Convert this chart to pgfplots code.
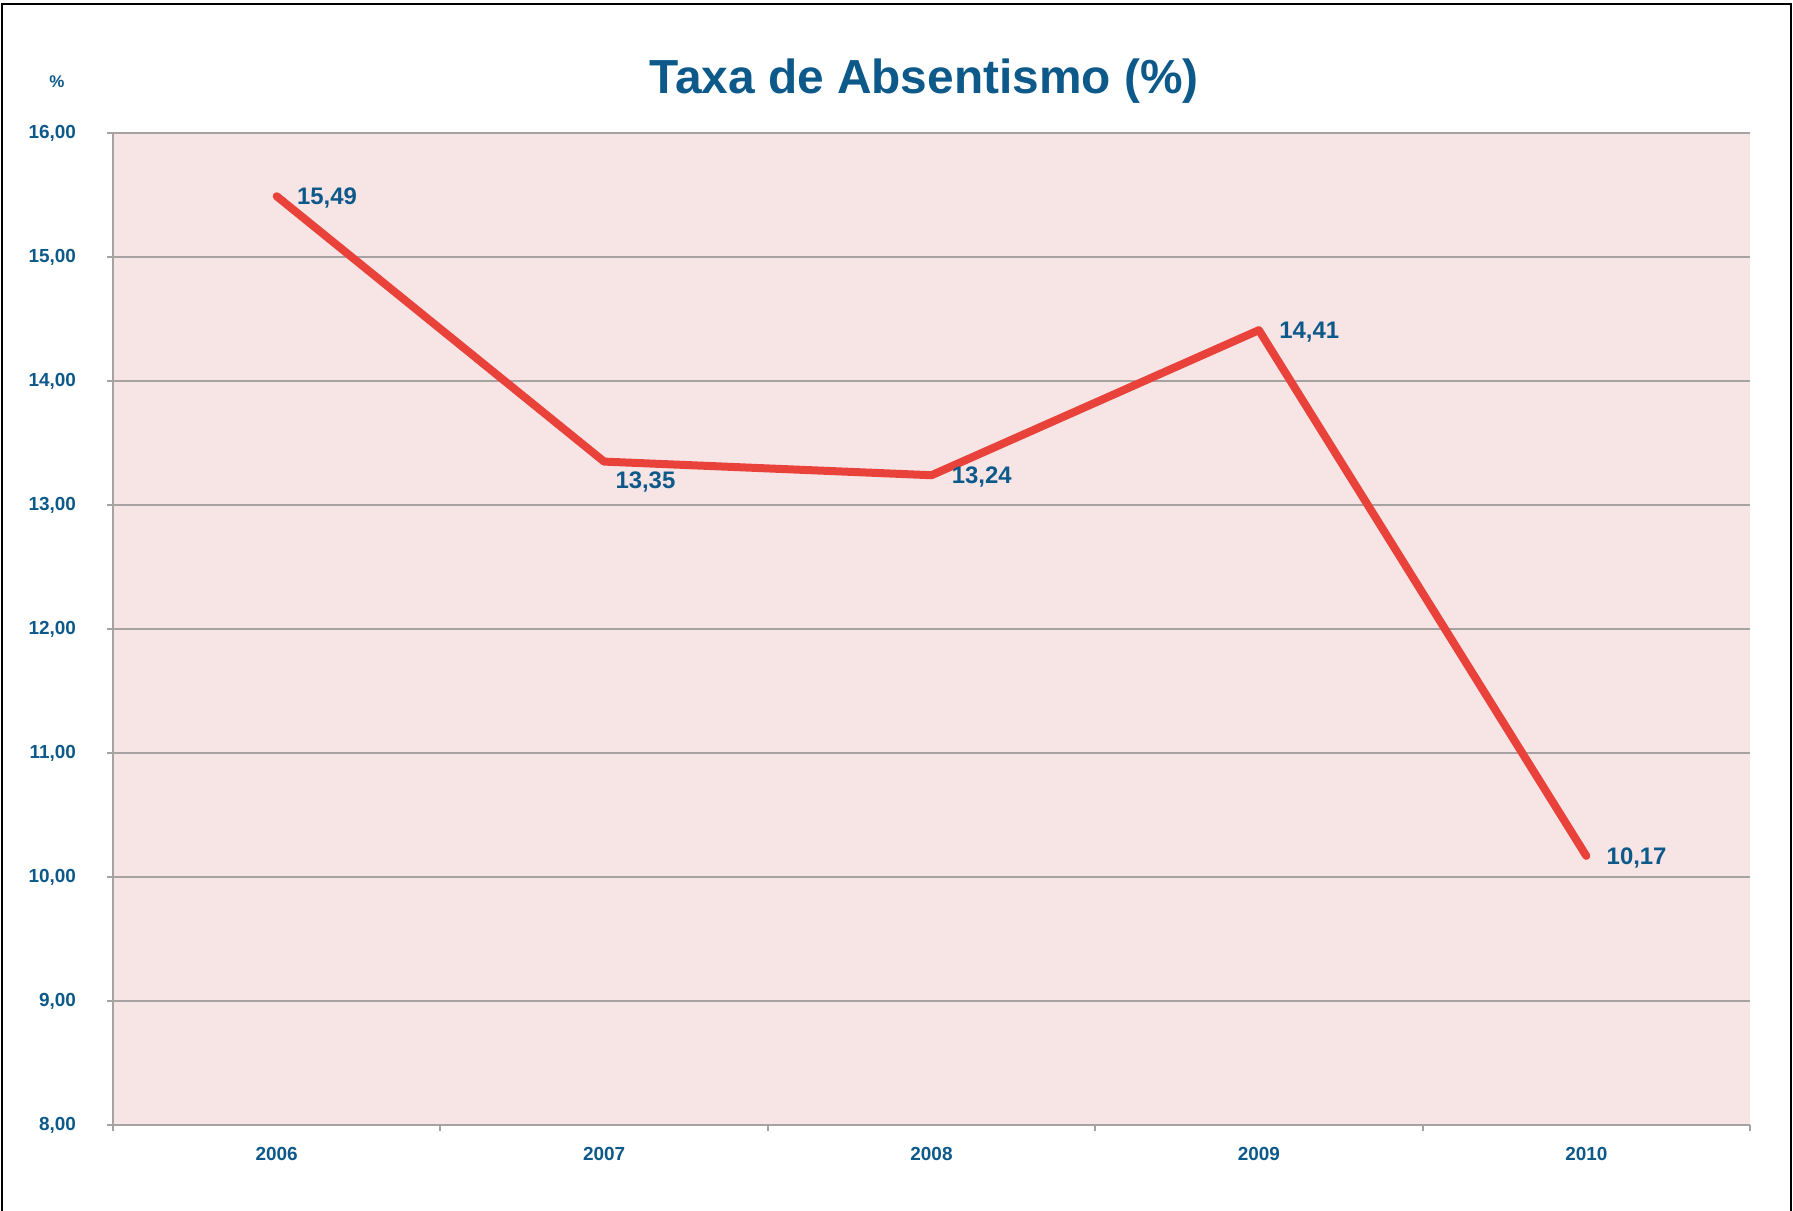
\documentclass[border=0pt]{standalone}
\usepackage{pgfplots}
\pgfplotsset{compat=1.18}
\usepackage{fontspec}
\setmainfont{Liberation Sans}
\definecolor{txtblue}{HTML}{0D5A8A}
\definecolor{linered}{HTML}{E8423A}
\definecolor{pinkbg}{HTML}{F7E4E4}
\definecolor{gridgray}{HTML}{A6A2A2}

\begin{document}
\begin{tikzpicture}
\useasboundingbox (-56.5bp,-43bp) rectangle (840bp,562.5bp);
\fill[white] (-56.5bp,-43bp) rectangle (840bp,562.5bp);
\draw[black, line width=1bp] (-55.5bp,-44bp) -- (-55.5bp,560.5bp) -- (839bp,560.5bp) -- (839bp,-44bp);
\begin{axis}[
  at={(0,0)}, anchor=south west,
  scale only axis, width=818.5bp, height=496bp,
  xmin=-0.5, xmax=4.5, ymin=8, ymax=16,
  axis lines*=left,
  axis line style={gridgray, line width=1bp},
  axis background/.style={fill=pinkbg},
  xtick={-0.5,0.5,1.5,2.5,3.5,4.5},
  xticklabels={},
  extra x ticks={0,1,2,3,4},
  extra x tick labels={2006,2007,2008,2009,2010},
  extra x tick style={grid=none, major tick length=0pt},
  ytick={8,9,...,16},
  yticklabels={{8,00},{9,00},{10,00},{11,00},{12,00},{13,00},{14,00},{15,00},{16,00}},
  ymajorgrids,
  grid style={gridgray, line width=1bp},
  major tick style={gridgray, line width=1bp},
  tick align=outside,
  major tick length=3bp,
  ticklabel style={font=\bfseries\fontsize{9.5}{11}\selectfont, text=txtblue},
  yticklabel style={xshift=-12bp},
  xticklabel style={yshift=-7.5bp},
  clip=false,
  nodes near coords,
  point meta=explicit symbolic,
]
\addplot[linered, line width=4bp, line cap=round, line join=round, no marks, nodes near coords={}] coordinates {
  (0,15.49) (1,13.35) (2,13.24) (3,14.41) (4,10.17)
};
\addplot[draw=none, no marks, nodes near coords style={anchor=west, inner sep=0pt, xshift=10bp, yshift=-0.8bp, font=\bfseries\fontsize{12}{14}\selectfont, text=txtblue}] coordinates {
  (0,15.49) [15,49]
  (2,13.24) [13,24]
  (3,14.41) [14,41]
  (4,10.17) [10,17]
};
\addplot[draw=none, no marks, nodes near coords style={anchor=north west, inner sep=0pt, xshift=5.5bp, yshift=-5bp, font=\bfseries\fontsize{12}{14}\selectfont, text=txtblue}] coordinates {
  (1,13.35) [13,35]
};
\end{axis}
\node[text=txtblue, font=\bfseries\fontsize{24}{28}\selectfont] at (405.5bp,521.8bp) {Taxa de Absentismo (\%)};
\node[text=txtblue, font=\bfseries\fontsize{8.5}{10}\selectfont] at (-28bp,521.5bp) {\%};
\end{tikzpicture}
\end{document}
